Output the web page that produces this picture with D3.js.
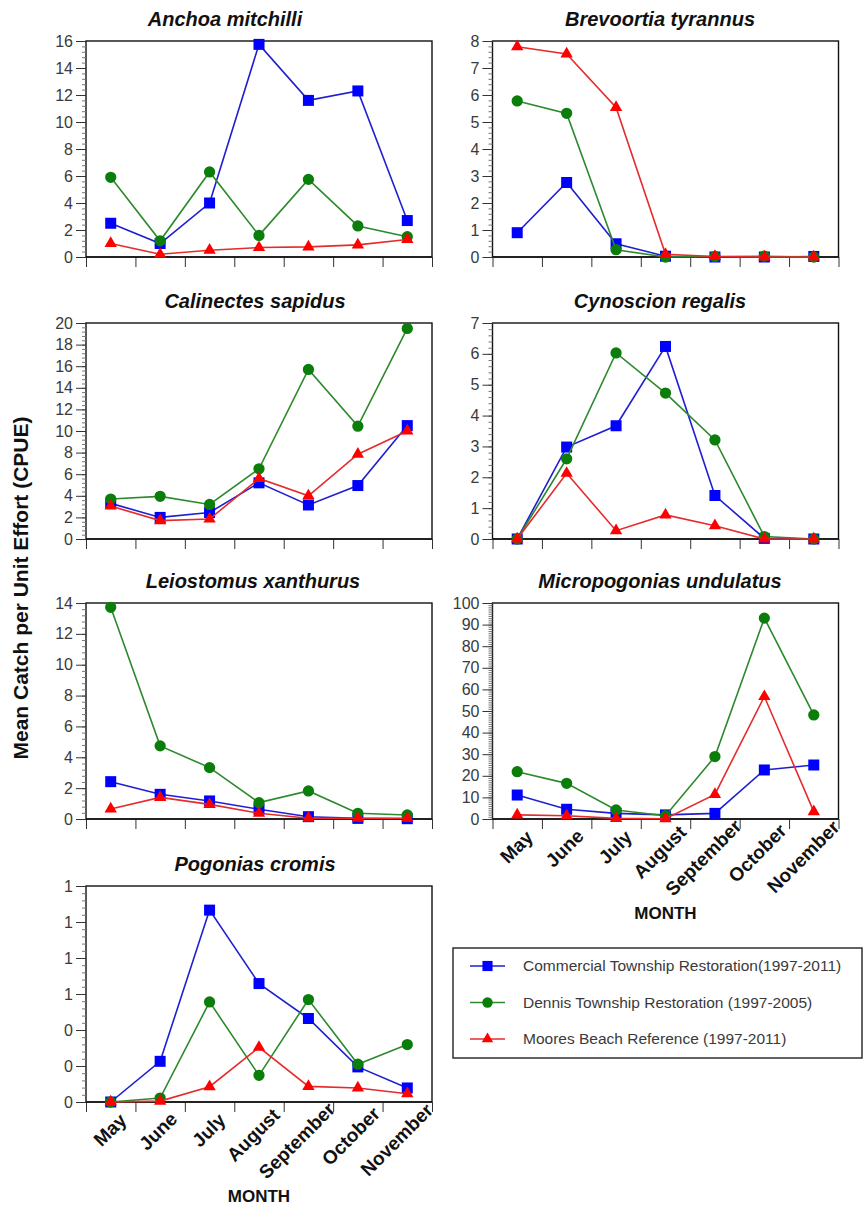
<!DOCTYPE html>
<html>
<head>
<meta charset="utf-8">
<script src="https://cdn.jsdelivr.net/npm/d3@7"></script>
<style>
  body { margin: 0; background: #fff; }
  svg { display: block; font-family: "Liberation Sans", Arial, sans-serif; }
</style>
</head>
<body>
<div id="chart"></div>
<script>
// CPUE by month, three marsh sites, seven species

const months = ['May', 'June', 'July', 'August', 'September', 'October', 'November']
const siteNames = [
  'Commercial Township Restoration(1997-2011)',
  'Dennis Township Restoration (1997-2005)',
  'Moores Beach Reference (1997-2011)'
]
const speciesNames = [
  'Anchoa mitchilli', 'Brevoortia tyrannus', 'Calinectes sapidus', 'Cynoscion regalis',
  'Leiostomus xanthurus', 'Micropogonias undulatus', 'Pogonias cromis'
]
const yMaxes = [16, 8, 20, 7, 14, 100, 1.2]
const ySteps = [2, 1, 2, 1, 2, 10, 0.2]

// rows: commercial, dennis, moores
const anchoaMitchilli = [
  [2.5, 1.0, 4.0, 15.75, 11.6, 12.3, 2.7],
  [5.9, 1.2, 6.3, 1.6, 5.75, 2.3, 1.5],
  [1.0, 0.2, 0.5, 0.7, 0.75, 0.9, 1.3]
]
const brevoortiaTyrannus = [
  [0.9, 2.76, 0.49, 0.03, 0, 0, 0.02],
  [5.78, 5.32, 0.27, 0, 0.02, 0.03, 0],
  [7.79, 7.52, 5.54, 0.1, 0.02, 0, 0]
]
const calinectesSapidus = [
  [3.3, 2.0, 2.45, 5.2, 3.15, 4.95, 10.5],
  [3.7, 3.95, 3.2, 6.5, 15.7, 10.45, 19.5],
  [3.05, 1.7, 1.85, 5.6, 4.0, 7.85, 10.0]
]
const cynoscionRegalis = [
  [0, 2.98, 3.67, 6.24, 1.41, 0.02, 0],
  [0, 2.6, 6.03, 4.73, 3.21, 0.08, 0],
  [0, 2.13, 0.27, 0.78, 0.43, 0, 0]
]
const leiostomusXanthurus = [
  [2.42, 1.6, 1.17, 0.63, 0.15, 0.04, 0.02],
  [13.72, 4.74, 3.33, 1.06, 1.82, 0.37, 0.26],
  [0.65, 1.4, 0.95, 0.37, 0.05, 0.05, 0.05]
]
const micropogoniasUndulatus = [
  [11.1, 4.5, 2.6, 1.9, 2.6, 22.7, 25.0],
  [21.9, 16.5, 4.2, 1.5, 28.9, 93.0, 48.2],
  [1.9, 1.5, 0.3, 0.1, 11.4, 56.7, 3.4]
]
const pogoniasCromis = [
  [0, 0.226, 1.066, 0.658, 0.464, 0.195, 0.078],
  [0, 0.022, 0.556, 0.148, 0.569, 0.21, 0.319],
  [0, 0.005, 0.085, 0.304, 0.087, 0.078, 0.046]
]

const speciesData = [
  anchoaMitchilli, brevoortiaTyrannus, calinectesSapidus, cynoscionRegalis,
  leiostomusXanthurus, micropogoniasUndulatus, pogoniasCromis
]

// look of each site
const siteStyles = [
  { line: '#1f1fd0', fill: '#0000ff', symbol: d3.symbolSquare, size: 121 },
  { line: '#2c8a2c', fill: '#0b7d0b', symbol: d3.symbolCircle, size: 100 },
  { line: '#e52b2b', fill: '#ff0000', symbol: d3.symbolTriangle, size: 66 }
]

// layout: [left, top, titleCenter, monthLabels]
const panelLayout = [
  [86, 41, 225, false], [492.5, 41, 660, false],
  [86, 323, 255, false], [492.5, 323, 660, false],
  [86, 603, 253, false], [492.5, 603, 660, true],
  [86, 886, 255, true]
]
const pw = 346, ph = 216

const svg = d3.select('#chart').append('svg')
  .attr('width', 864)
  .attr('height', 1210)

svg.append('rect').attr('width', 864).attr('height', 1210).attr('fill', '#fff')

speciesNames.forEach((name, i) => {
  const [left, top, titleX, showMonths] = panelLayout[i]
  const g = svg.append('g').attr('transform', `translate(${left},${top})`)

  const x = d3.scalePoint().domain(months).range([0, pw]).padding(0.5)
  const xEdge = d3.scaleLinear().domain([0, months.length]).range([0, pw])
  const y = d3.scaleLinear().domain([0, yMaxes[i]]).range([ph, 0])

  const step = ySteps[i]
  const majors = d3.range(0, yMaxes[i] + step / 2, step)
  const minorDiv = i === 5 ? 10 : 5
  const minors = d3.range(0, yMaxes[i] + step / 20, step / minorDiv)

  g.append('rect')
    .attr('width', pw).attr('height', ph)
    .attr('fill', '#fff').attr('stroke', '#111').attr('stroke-width', 1.4)

  // minor ticks
  g.append('g')
    .call(d3.axisLeft(y).tickValues(minors).tickSize(4).tickFormat(''))
    .call(a => a.select('.domain').remove())
    .selectAll('line').attr('stroke', '#777')

  // major ticks
  const fmt = i === 6 ? d3.format('.0f') : d3.format('d')
  const yAxis = g.append('g')
    .call(d3.axisLeft(y).tickValues(majors).tickSize(10).tickPadding(3).tickFormat(fmt))
  yAxis.select('.domain').remove()
  yAxis.selectAll('line').attr('stroke', '#333')
  yAxis.selectAll('text').attr('font-size', 16).attr('fill', '#3a3a3a')
    .attr('font-family', '"Liberation Sans", Arial, sans-serif')

  const xAxis = g.append('g')
    .attr('transform', `translate(0,${ph})`)
    .call(d3.axisBottom(xEdge).ticks(months.length).tickSize(10).tickFormat(''))
  xAxis.select('.domain').remove()
  xAxis.selectAll('line').attr('stroke', '#333')

  g.append('line')
    .attr('x1', 0).attr('x2', pw).attr('y1', ph).attr('y2', ph)
    .attr('stroke', '#111').attr('stroke-width', 1.6)

  svg.append('text')
    .attr('x', titleX).attr('y', top - 15)
    .attr('text-anchor', 'middle')
    .attr('font-size', 20).attr('font-weight', 'bold').attr('font-style', 'italic')
    .attr('fill', '#111')
    .text(name)

  const line = d3.line().x((d, k) => x(months[k])).y(d => y(d))

  speciesData[i].forEach((vals, s) => {
    const st = siteStyles[s]
    g.append('path')
      .datum(vals)
      .attr('d', line)
      .attr('fill', 'none')
      .attr('stroke', st.line)
      .attr('stroke-width', 1.6)
    g.append('g').selectAll('path')
      .data(vals)
      .join('path')
      .attr('transform', (d, k) => `translate(${x(months[k])},${y(d)})`)
      .attr('d', d3.symbol().type(st.symbol).size(st.size))
      .attr('fill', st.fill)
  })

  if (showMonths) {
    g.append('g').selectAll('text')
      .data(months)
      .join('text')
      .attr('transform', d => `translate(${x(d) + 10.5},${ph + 26}) rotate(-45)`)
      .attr('font-size', 19).attr('font-weight', 'bold').attr('fill', '#111')
      .text(d => d)
      .each(function () {
        const L = this.getComputedTextLength()
        d3.select(this).attr('x', -0.75 * L)
      })

    g.append('text')
      .attr('x', pw / 2).attr('y', ph + 100)
      .attr('text-anchor', 'middle')
      .attr('font-size', 17).attr('font-weight', 'bold').attr('fill', '#111')
      .text('MONTH')
  }
})

svg.append('text')
  .attr('transform', 'translate(27.5,588) rotate(-90)')
  .attr('text-anchor', 'middle')
  .attr('font-size', 21).attr('font-weight', 'bold').attr('fill', '#111')
  .text('Mean Catch per Unit Effort (CPUE)')

// legend
const legend = svg.append('g').attr('transform', 'translate(453,948)')
legend.append('rect')
  .attr('width', 409).attr('height', 110)
  .attr('fill', '#fff').attr('stroke', '#222').attr('stroke-width', 1.4)

siteNames.forEach((label, s) => {
  const st = siteStyles[s]
  const row = legend.append('g').attr('transform', `translate(0,${18 + s * 36.5})`)
  row.append('line')
    .attr('x1', 17).attr('x2', 52)
    .attr('stroke', st.line).attr('stroke-width', 1.6)
  row.append('path')
    .attr('transform', 'translate(34.5,0)')
    .attr('d', d3.symbol().type(st.symbol).size(st.size * 0.85))
    .attr('fill', st.fill)
  row.append('text')
    .attr('x', 70).attr('dy', '0.35em')
    .attr('font-size', 15.5).attr('fill', '#3a3a3a')
    .text(label)
})
</script>
</body>
</html>
